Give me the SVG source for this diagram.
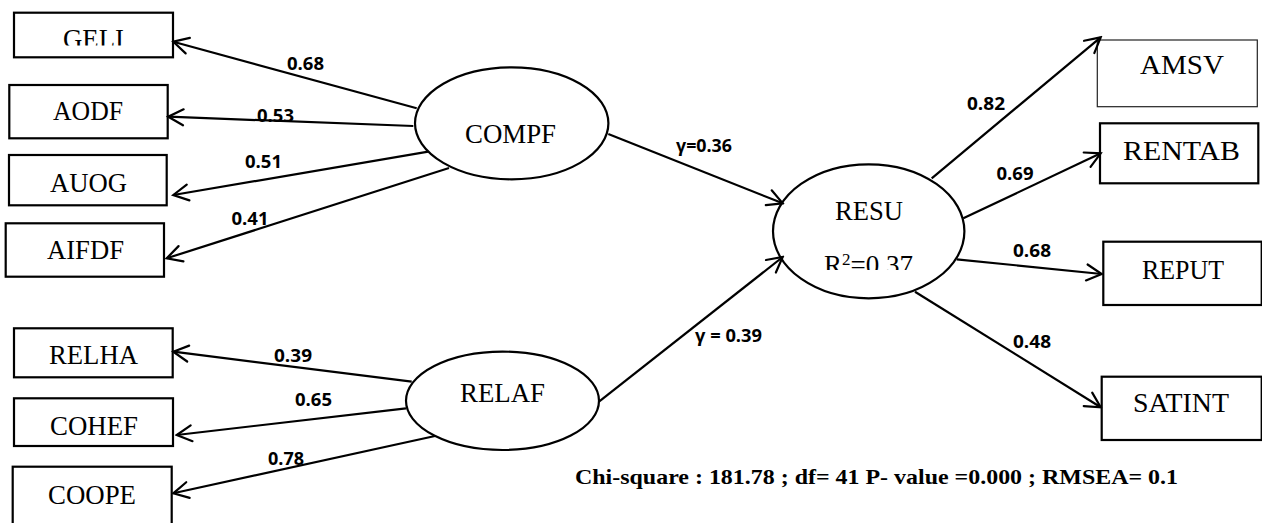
<svg xmlns="http://www.w3.org/2000/svg" width="1262" height="523" viewBox="0 0 1262 523">
<style>
.box{fill:#fff;stroke:#000;stroke-width:2.2}
.thin{fill:#fff;stroke:#222;stroke-width:1.2}
.ell{fill:#fff;stroke:#000;stroke-width:2.2}
.nt{font-family:"Liberation Serif","Times New Roman",serif;font-size:27px;fill:#000}
.lb{font-family:"Open Sans","Liberation Sans",sans-serif;font-size:18px;font-weight:bold;fill:#000}
.ft{font-family:"Liberation Serif","Times New Roman",serif;font-size:22px;font-weight:bold;fill:#000}
.con line{stroke:#000;stroke-width:2.2;marker-end:url(#ah)}
</style>
<defs>
<marker id="ah" viewBox="-17 -10 19 20" refX="0" refY="0" markerWidth="19" markerHeight="20" markerUnits="userSpaceOnUse" orient="auto">
<path d="M-15,-8 L0,0 L-15,8" fill="none" stroke="#000" stroke-width="2.2" stroke-linecap="round" stroke-linejoin="miter"/>
</marker>
<clipPath id="cGELI"><rect x="0" y="0" width="200" height="45.5"/></clipPath>
<clipPath id="cR2"><rect x="780" y="230" width="180" height="40"/></clipPath>
</defs>
<rect width="1262" height="523" fill="#fff"/>

<g id="GELI"><rect class="box" x="14" y="12.7" width="159" height="44.6"/><text class="nt" x="63" y="47.6" textLength="61" lengthAdjust="spacingAndGlyphs" clip-path="url(#cGELI)">GELI</text></g>
<g id="AODF"><rect class="box" x="9.3" y="85" width="158.4" height="53.3"/><text class="nt" x="53" y="120" textLength="70" lengthAdjust="spacingAndGlyphs">AODF</text></g>
<g id="AUOG"><rect class="box" x="9" y="155" width="157.7" height="50.3"/><text class="nt" x="50" y="191.5" textLength="77" lengthAdjust="spacingAndGlyphs">AUOG</text></g>
<g id="AIFDF"><rect class="box" x="5.7" y="223.3" width="158.3" height="53.4"/><text class="nt" x="47" y="259" textLength="77" lengthAdjust="spacingAndGlyphs">AIFDF</text></g>
<g id="RELHA"><rect class="box" x="14" y="328.3" width="158.7" height="49"/><text class="nt" x="49" y="364" textLength="89" lengthAdjust="spacingAndGlyphs">RELHA</text></g>
<g id="COHEF"><rect class="box" x="14" y="398.3" width="159" height="47.7"/><text class="nt" x="50" y="434.5" textLength="88" lengthAdjust="spacingAndGlyphs">COHEF</text></g>
<g id="COOPE"><rect class="box" x="12.7" y="466.7" width="159" height="60"/><text class="nt" x="48" y="503.5" textLength="88" lengthAdjust="spacingAndGlyphs">COOPE</text></g>

<g id="AMSV"><rect class="thin" x="1097.3" y="40" width="160" height="66.7"/><text class="nt" x="1140" y="74" textLength="84" lengthAdjust="spacingAndGlyphs">AMSV</text></g>
<g id="RENTAB"><rect class="box" x="1100" y="123.3" width="158.3" height="60"/><text class="nt" x="1123" y="160" textLength="117" lengthAdjust="spacingAndGlyphs">RENTAB</text></g>
<g id="REPUT"><rect class="box" x="1103.3" y="241.7" width="158.4" height="63.3"/><text class="nt" x="1142" y="279" textLength="82" lengthAdjust="spacingAndGlyphs">REPUT</text></g>
<g id="SATINT"><rect class="box" x="1101.7" y="376.7" width="160" height="63.3"/><text class="nt" x="1133" y="411.5" textLength="96" lengthAdjust="spacingAndGlyphs">SATINT</text></g>

<g id="COMPF"><ellipse class="ell" cx="511.7" cy="123.3" rx="96.7" ry="56"/><text class="nt" x="465" y="143" textLength="91" lengthAdjust="spacingAndGlyphs">COMPF</text></g>
<g id="RELAF"><ellipse class="ell" cx="502.5" cy="400.8" rx="96.5" ry="49.2"/><text class="nt" x="460" y="402" textLength="85" lengthAdjust="spacingAndGlyphs">RELAF</text></g>
<g id="RESU"><ellipse class="ell" cx="868.7" cy="231.3" rx="95.7" ry="67"/><text class="nt" x="835" y="220" textLength="68" lengthAdjust="spacingAndGlyphs">RESU</text>
<text class="nt" x="824" y="273.6" clip-path="url(#cR2)">R<tspan font-size="17" dy="-9">2</tspan><tspan dy="9">=0.37</tspan></text></g>

<g id="connectors" class="con">
<line x1="416.7" y1="108.3" x2="173.3" y2="41.7"/>
<line x1="413.3" y1="126" x2="168.3" y2="116.7"/>
<line x1="428.3" y1="151.7" x2="173.3" y2="195"/>
<line x1="449" y1="168" x2="166.7" y2="258.3"/>
<line x1="411.7" y1="381.7" x2="173.3" y2="351.7"/>
<line x1="406" y1="408.3" x2="176.7" y2="435"/>
<line x1="435" y1="436" x2="173.3" y2="493.3"/>
<line x1="608.3" y1="134" x2="782.7" y2="203.3"/>
<line x1="599" y1="401.7" x2="782.7" y2="257"/>
<line x1="931.7" y1="178.3" x2="1100.7" y2="37.3"/>
<line x1="963.3" y1="218.3" x2="1100.7" y2="153.3"/>
<line x1="956.7" y1="259.3" x2="1101.7" y2="274"/>
<line x1="915" y1="291.7" x2="1100.7" y2="407.3"/>
</g>

<g id="labels">
<text class="lb" x="287" y="70" textLength="37" lengthAdjust="spacingAndGlyphs">0.68</text>
<text class="lb" x="257" y="122" textLength="37" lengthAdjust="spacingAndGlyphs">0.53</text>
<text class="lb" x="245" y="167.5" textLength="37" lengthAdjust="spacingAndGlyphs">0.51</text>
<text class="lb" x="231.5" y="225" textLength="37" lengthAdjust="spacingAndGlyphs">0.41</text>
<text class="lb" x="274" y="361.5" textLength="38" lengthAdjust="spacingAndGlyphs">0.39</text>
<text class="lb" x="295" y="406" textLength="37" lengthAdjust="spacingAndGlyphs">0.65</text>
<text class="lb" x="268" y="465" textLength="36" lengthAdjust="spacingAndGlyphs">0.78</text>
<text class="lb" x="676" y="152" textLength="56" lengthAdjust="spacingAndGlyphs">γ=0.36</text>
<text class="lb" x="695" y="341.5" textLength="67" lengthAdjust="spacingAndGlyphs">γ = 0.39</text>
<text class="lb" x="967" y="110" textLength="38" lengthAdjust="spacingAndGlyphs">0.82</text>
<text class="lb" x="996.5" y="180" textLength="37" lengthAdjust="spacingAndGlyphs">0.69</text>
<text class="lb" x="1013" y="256.5" textLength="38" lengthAdjust="spacingAndGlyphs">0.68</text>
<text class="lb" x="1013" y="348" textLength="38" lengthAdjust="spacingAndGlyphs">0.48</text>
</g>

<text class="ft" x="575" y="484" textLength="603" lengthAdjust="spacingAndGlyphs">Chi-square : 181.78 ; df= 41 P- value =0.000 ; RMSEA= 0.1</text>
</svg>
